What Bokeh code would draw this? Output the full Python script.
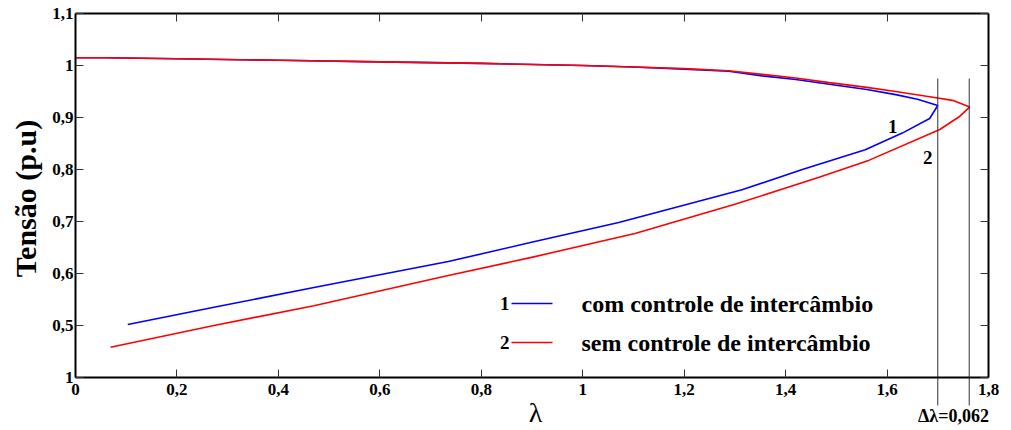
import math
from bokeh.plotting import figure
from bokeh.models import FixedTicker, LinearAxis, Label, Range1d
from bokeh.embed import file_html
from bokeh.resources import INLINE

# ---- data ----
# curve 1: com controle de intercâmbio (upper branch -> nose -> lower branch)
lam_1 = [0.0, 0.06, 0.2, 0.4, 0.6, 0.8, 1.0, 1.1, 1.2, 1.288, 1.354, 1.42, 1.5, 1.56, 1.617, 1.66, 1.700,
         1.684, 1.63, 1.557, 1.433, 1.314, 1.071, 0.899, 0.735, 0.47, 0.273, 0.103]
v_1 = [1.015, 1.015, 1.013, 1.010, 1.007, 1.004, 1.000, 0.997, 0.993, 0.989, 0.980, 0.973, 0.962, 0.954, 0.944, 0.935, 0.923,
       0.898, 0.870, 0.838, 0.800, 0.761, 0.698, 0.660, 0.623, 0.573, 0.535, 0.502]
# curve 2: sem controle de intercâmbio
lam_2 = [0.0, 0.06, 0.2, 0.4, 0.6, 0.8, 1.0, 1.1, 1.2, 1.288, 1.354, 1.42, 1.486, 1.56, 1.617, 1.684, 1.729, 1.763,
         1.743, 1.704, 1.565, 1.466, 1.30, 1.103, 0.899, 0.735, 0.47, 0.273, 0.069]
v_2 = [1.015, 1.015, 1.013, 1.010, 1.007, 1.004, 1.000, 0.997, 0.994, 0.990, 0.983, 0.976, 0.967, 0.958, 0.950, 0.940, 0.933, 0.920,
       0.902, 0.877, 0.818, 0.785, 0.733, 0.677, 0.631, 0.596, 0.538, 0.500, 0.458]

x_ticks = [0, 0.2, 0.4, 0.6, 0.8, 1.0, 1.2, 1.4, 1.6, 1.8]
x_tick_labels = ["0", "0,2", "0,4", "0,6", "0,8", "1", "1,2", "1,4", "1,6", "1,8"]
y_ticks = [0.4, 0.5, 0.6, 0.7, 0.8, 0.9, 1.0, 1.1]
y_tick_labels = ["1", "0,5", "0,6", "0,7", "0,8", "0,9", "1", "1,1"]

x_title = "λ"
y_title = "Tensão (p.u)"
series_names = ["com controle de intercâmbio", "sem controle de intercâmbio"]
series_ids = ["1", "2"]
series_colors = ["#0000ff", "#ff0000"]

lam_limits = [1.700, 1.762]
delta_text = "Δλ=0,062"

X_MIN, X_MAX = 0.0, 1.8
Y_MIN, Y_MAX = 0.4, 1.1

SERIF = "Liberation Serif"

# ---- layout (pixels) ----
W, H = 1011, 430
BOX_L, BOX_R, BOX_T, BOX_B = 75, 988, 13, 377
# the frame fills the whole canvas; the box is drawn by axes at fixed locations,
# so that texts and lines outside the box are not clipped
xpp = (X_MAX - X_MIN) / (BOX_R - BOX_L)
ypp = (Y_MAX - Y_MIN) / (BOX_B - BOX_T)


def dx(px):  # pixel offset from the box's left edge -> data x
    return X_MIN + px * xpp


def dy(py):  # pixel offset above the box's bottom edge -> data y
    return Y_MIN + py * ypp


p = figure(width=W, height=H, output_backend="svg", toolbar_location=None,
           x_range=Range1d(dx(-BOX_L), dx(W - BOX_L)),
           y_range=Range1d(dy(-(H - BOX_B)), dy(BOX_B)),
           min_border_left=0, min_border_right=0, min_border_top=0, min_border_bottom=0)
p.xgrid.visible = False
p.ygrid.visible = False
p.outline_line_color = None
p.background_fill_color = "white"
p.border_fill_color = "white"


def style_axis(ax, labels=True):
    ax.major_tick_in = 8
    ax.major_tick_out = 0
    ax.minor_tick_in = 0
    ax.minor_tick_out = 0
    ax.axis_line_color = "black"
    ax.axis_line_width = 2
    ax.major_tick_line_color = "#333333"
    ax.major_tick_line_width = 1
    ax.major_label_text_font = SERIF
    ax.major_label_text_font_style = "bold"
    ax.major_label_text_font_size = "17px"
    if labels:
        ax.major_label_text_color = "black"
    else:
        ax.major_label_text_color = None


xa = p.xaxis[0]
xa.ticker = FixedTicker(ticks=x_ticks)
xa.major_label_overrides = dict(zip(x_ticks, x_tick_labels))
xa.fixed_location = Y_MIN
xa.bounds = (X_MIN, X_MAX)
style_axis(xa)
xa.major_label_standoff = 6

ya = p.yaxis[0]
ya.ticker = FixedTicker(ticks=y_ticks)
ya.major_label_overrides = dict(zip(y_ticks, y_tick_labels))
ya.fixed_location = X_MIN
ya.bounds = (Y_MIN, Y_MAX)
style_axis(ya)
ya.major_label_standoff = 2

top = LinearAxis(ticker=FixedTicker(ticks=x_ticks), fixed_location=Y_MAX, bounds=(X_MIN, X_MAX))
style_axis(top, labels=False)
p.add_layout(top, "above")
right = LinearAxis(ticker=FixedTicker(ticks=y_ticks), fixed_location=X_MAX, bounds=(Y_MIN, Y_MAX))
style_axis(right, labels=False)
p.add_layout(right, "right")

# axis titles
p.add_layout(Label(x=dx(460), y=dy(-35), text=x_title, text_align="center", text_baseline="middle",
                   text_font=SERIF, text_font_style="normal", text_font_size="28px", text_color="black"))
p.add_layout(Label(x=dx(-50), y=dy(179), text=y_title, angle=math.pi / 2, text_align="center",
                   text_baseline="middle", text_font=SERIF, text_font_style="bold",
                   text_font_size="30px", text_color="black"))

# curves
p.line(lam_1, v_1, line_color=series_colors[0], line_width=1.6)
p.line(lam_2, v_2, line_color=series_colors[1], line_width=1.6)

# vertical marker lines (extend below the box)
p.segment(x0=lam_limits, y0=[dy(299)] * 2, x1=lam_limits, y1=[dy(-28)] * 2,
          line_color="#333333", line_width=1)

p.add_layout(Label(x=sum(lam_limits) / 2, y=dy(-38), text=delta_text, text_align="center",
                   text_baseline="middle", text_font=SERIF, text_font_style="bold",
                   text_font_size="18px", text_color="black"))

# curve labels
p.add_layout(Label(x=1.611, y=0.883, text=series_ids[0], text_align="center", text_baseline="middle",
                   text_font=SERIF, text_font_style="bold", text_font_size="19px", text_color="black"))
p.add_layout(Label(x=1.680, y=0.823, text=series_ids[1], text_align="center", text_baseline="middle",
                   text_font=SERIF, text_font_style="bold", text_font_size="19px", text_color="black"))

# legend drawn by hand
leg_y = [dy(74), dy(35)]
for i in range(2):
    p.add_layout(Label(x=dx(434), y=leg_y[i], text=series_ids[i], text_align="right", text_baseline="middle",
                       text_font=SERIF, text_font_style="bold", text_font_size="19px", text_color="black"))
    p.segment(x0=[dx(436)], y0=[leg_y[i]], x1=[dx(477)], y1=[leg_y[i]], line_color=series_colors[i], line_width=1.6)
    p.add_layout(Label(x=dx(506), y=leg_y[i], text=series_names[i], text_align="left", text_baseline="middle",
                       text_font=SERIF, text_font_style="bold", text_font_size="24px", text_color="black"))

open("out.html", "w").write(file_html(p, INLINE))
